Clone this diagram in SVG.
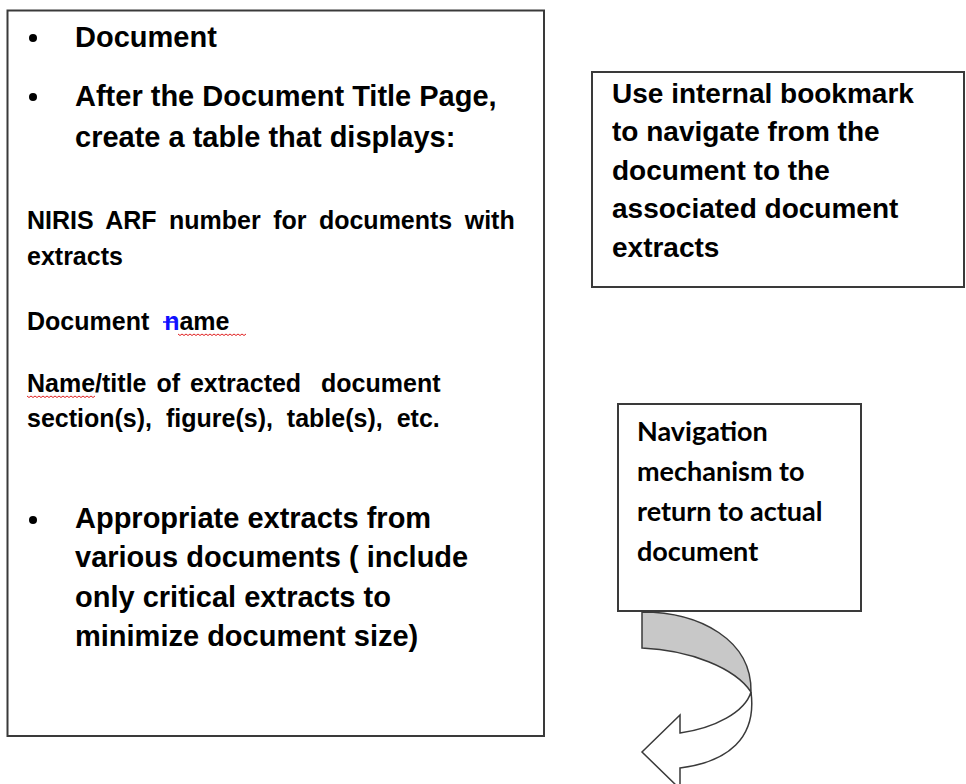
<svg xmlns="http://www.w3.org/2000/svg" width="966" height="784" viewBox="0 0 966 784">
<style>
.box{fill:#fff;stroke:#3a3a3a;stroke-width:2}
.b{font-family:"Liberation Sans",Arial,sans-serif;font-weight:bold;font-size:29px;fill:#000}
.s{font-family:"Liberation Sans",Arial,sans-serif;font-weight:bold;font-size:25px;fill:#000}
.r{font-family:"Liberation Sans",Arial,sans-serif;font-weight:bold;font-size:28px;fill:#000}
.n{font-family:Lato,"Open Sans",sans-serif;font-weight:bold;font-size:27px;fill:#000}
.dot{fill:#000}
.wave{fill:none;stroke:#e02020;stroke-width:1}
.arr{stroke:#3a3a3a;stroke-width:1.5;stroke-linejoin:miter}
</style>
<rect width="966" height="784" fill="#fff"/>
<g id="document-box">
  <rect class="box" x="7.5" y="10.5" width="536.5" height="725.5"/>
  <circle class="dot" cx="33" cy="38" r="4"/>
  <text class="b" x="75" y="47">Document</text>
  <circle class="dot" cx="33" cy="97" r="4"/>
  <text class="b" x="75" y="106">After the Document Title Page,</text>
  <text class="b" x="75" y="147">create a table that displays:</text>
  <text class="s" x="27" y="229" word-spacing="5.5">NIRIS ARF number for documents with</text>
  <text class="s" x="27" y="265">extracts</text>
  <text class="s" x="27" y="330" word-spacing="8">Document <tspan fill="#1010ff">n</tspan>ame</text>
  <line x1="163" y1="322" x2="177" y2="322" stroke="#1010ff" stroke-width="1.5"/>
  <path class="wave" d="M178,334 l2,1.5 l2,-1.5 l2,1.5 l2,-1.5 l2,1.5 l2,-1.5 l2,1.5 l2,-1.5 l2,1.5 l2,-1.5 l2,1.5 l2,-1.5 l2,1.5 l2,-1.5 l2,1.5 l2,-1.5 l2,1.5 l2,-1.5 l2,1.5 l2,-1.5 l2,1.5 l2,-1.5 l2,1.5 l2,-1.5 l2,1.5 l2,-1.5 l2,1.5 l2,-1.5 l2,1.5 l2,-1.5 l2,1.5 l2,-1.5 l2,1.5 l2,-1.5"/>
  <text class="s" x="27" y="392" word-spacing="3" xml:space="preserve">Name/title of extracted  document</text>
  <path class="wave" d="M27,396 l2,1.5 l2,-1.5 l2,1.5 l2,-1.5 l2,1.5 l2,-1.5 l2,1.5 l2,-1.5 l2,1.5 l2,-1.5 l2,1.5 l2,-1.5 l2,1.5 l2,-1.5 l2,1.5 l2,-1.5 l2,1.5 l2,-1.5 l2,1.5 l2,-1.5 l2,1.5 l2,-1.5 l2,1.5 l2,-1.5 l2,1.5 l2,-1.5 l2,1.5 l2,-1.5 l2,1.5 l2,-1.5 l2,1.5 l2,-1.5 l2,1.5 l2,-1.5"/>
  <text class="s" x="27" y="427" word-spacing="7">section(s), figure(s), table(s), etc.</text>
  <circle class="dot" cx="33" cy="520" r="4"/>
  <text class="b" x="75" y="528">Appropriate extracts from</text>
  <text class="b" x="75" y="567">various documents ( include</text>
  <text class="b" x="75" y="607">only critical extracts to</text>
  <text class="b" x="75" y="646">minimize document size)</text>
</g>
<g id="bookmark-box">
  <rect class="box" x="592" y="72" width="372" height="215"/>
  <text class="r" x="612" y="103">Use internal bookmark</text>
  <text class="r" x="612" y="141">to navigate from the</text>
  <text class="r" x="612" y="180">document to the</text>
  <text class="r" x="612" y="218">associated document</text>
  <text class="r" x="612" y="257">extracts</text>
</g>
<g id="navigation-box">
  <rect class="box" x="618" y="404" width="243" height="207"/>
  <text class="n" x="637" y="441">Navigation</text>
  <text class="n" x="637" y="481">mechanism to</text>
  <text class="n" x="637" y="521">return to actual</text>
  <text class="n" x="637" y="561">document</text>
</g>
<g id="connectors">
  <path class="arr" fill="#c8c8c8" d="M642,612 C700,612 752,640 751,692 C735,668 690,650 642,648 Z"/>
  <path class="arr" fill="#fff" d="M751,692 C745,712 715,728 680,733 L680,715 L642,752 L680,789 L680,768 C728,762 757,738 751,692 Z"/>
</g>
</svg>
